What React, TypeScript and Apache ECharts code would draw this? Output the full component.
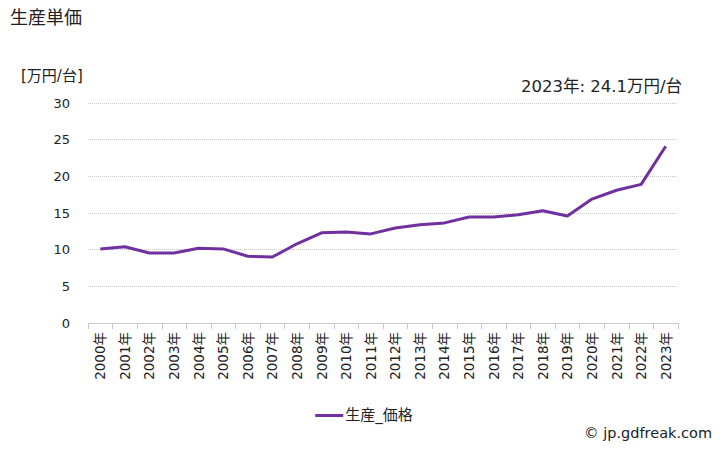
import React, { useEffect, useRef } from "react";
import * as echarts from "echarts";

const years = ["2000年","2001年","2002年","2003年","2004年","2005年","2006年","2007年","2008年","2009年","2010年","2011年","2012年","2013年","2014年","2015年","2016年","2017年","2018年","2019年","2020年","2021年","2022年","2023年"];
const prices = [10.1,10.4,9.55,9.55,10.2,10.1,9.1,9.0,10.8,12.3,12.4,12.15,12.95,13.4,13.65,14.45,14.45,14.75,15.3,14.6,16.9,18.1,18.9,24.1];
const seriesName = "生産_価格";
const titleText = "生産単価";
const unitText = "[万円/台]";
const noteText = "2023年: 24.1万円/台";
const creditText = "© jp.gdfreak.com";

const FONT = "'DejaVu Sans', 'Noto Sans CJK JP', sans-serif";

export default function App() {
  const ref = useRef<HTMLDivElement>(null);
  useEffect(() => {
    if (!ref.current) return;
    const chart = echarts.init(ref.current, undefined, { renderer: "svg" });
    chart.setOption({
      animation: false,
      backgroundColor: "#fff",
      textStyle: { fontFamily: FONT },
      graphic: [
        { type: "text", left: 10, top: 8, style: { text: titleText, fontSize: 18, fill: "#222", fontFamily: FONT } },
        { type: "text", left: 21, top: 68, style: { text: unitText, fontSize: 15, fill: "#222", fontFamily: FONT } },
        { type: "text", right: 46, top: 78, style: { text: noteText, fontSize: 16.5, fill: "#222", fontFamily: FONT } },
        { type: "text", right: 16, top: 426, style: { text: creditText, fontSize: 14.5, fill: "#222", fontFamily: FONT } },
      ],
      legend: {
        bottom: 22,
        left: "center",
        itemWidth: 28,
        itemHeight: 3,
        icon: "rect",
        textStyle: { fontSize: 15, color: "#222", fontFamily: FONT, padding: [0, 0, 0, -3] },
        data: [seriesName],
      },
      grid: { left: 88, right: 50, top: 103, bottom: 127 },
      xAxis: {
        type: "category",
        data: years,
        boundaryGap: true,
        axisLine: { lineStyle: { color: "#c8c8d0" } },
        axisTick: { show: true, lineStyle: { color: "#c8c8d0" }, length: 6 },
        axisLabel: { rotate: 90, fontSize: 13.5, color: "#222", interval: 0, margin: 9, fontFamily: FONT },
      },
      yAxis: {
        type: "value",
        min: 0,
        max: 30,
        interval: 5,
        axisLine: { show: false },
        axisTick: { show: false },
        axisLabel: { fontSize: 13, color: "#222", margin: 18, fontFamily: FONT },
        splitLine: { lineStyle: { color: "#c8c8c8", type: "dotted" } },
      },
      series: [
        {
          name: seriesName,
          type: "line",
          data: prices,
          symbol: "none",
          lineStyle: { color: "#7030a0", width: 3 },
          itemStyle: { color: "#7030a0" },
        },
      ],
    });
    return () => chart.dispose();
  }, []);
  return <div ref={ref} style={{ width: 728, height: 450, margin: -8 }} />;
}
